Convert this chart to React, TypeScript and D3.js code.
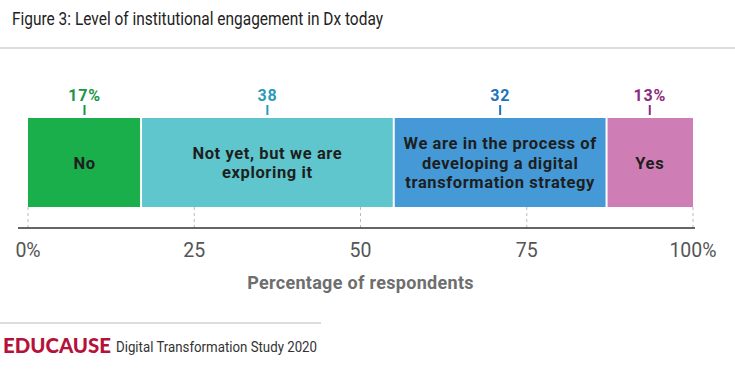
import React from "react";
import * as d3 from "d3";

const categories = ["No", "Not yet, but we are exploring it", "We are in the process of developing a digital transformation strategy", "Yes"];
const categoryLines = [["No"], ["Not yet, but we are", "exploring it"], ["We are in the process of", "developing a digital", "transformation strategy"], ["Yes"]];
const values = [17, 38, 32, 13];
const valueLabels = ["17%", "38", "32", "13%"];
const tickValues = [0, 25, 50, 75, 100];
const tickLabels = ["0%", "25", "50", "75", "100%"];
const fills = ["#1aaf4b", "#5ec6cc", "#4499d6", "#cf7eb5"];
const labelColors = ["#1a9448", "#2a9bb8", "#1e72bb", "#8e2a80"];

export default function App() {
  const W = 735, H = 377;
  const x = d3.scaleLinear().domain([0, 100]).range([28, 693]);
  const barTop = 118, barBottom = 207, axisY = 228;
  const starts = values.reduce<number[]>((acc, v, i) => { acc.push(i === 0 ? 0 : acc[i - 1] + values[i - 1]); return acc; }, []);
  const font = "Roboto, 'DejaVu Sans', sans-serif";
  return (
    <svg width={W} height={H} style={{ position: "absolute", left: 0, top: 0, background: "#fff" }} fontFamily={font}>
      <rect width={W} height={H} fill="#fff" />
      <text x={12} y={25} fontSize={17.5} fill="#222" textLength={371} lengthAdjust="spacingAndGlyphs">Figure 3: Level of institutional engagement in Dx today</text>
      <line x1={0} x2={W} y1={48} y2={48} stroke="#dcdcdc" strokeWidth={2} />
      {tickValues.map((t) => (
        <line key={"g" + t} x1={x(t)} x2={x(t)} y1={barBottom} y2={axisY} stroke="#bbb" strokeDasharray="3,3" />
      ))}
      {values.map((v, i) => {
        const x0 = x(starts[i]) + (i === 0 ? 0 : 1);
        const x1 = x(starts[i] + v) - (i === values.length - 1 ? 0 : 1);
        const cx = (x(starts[i]) + x(starts[i] + v)) / 2;
        const lines = categoryLines[i];
        const midY = (barTop + barBottom) / 2;
        const lh = 19.5;
        return (
          <g key={categories[i]}>
            <rect x={x0} y={barTop} width={x1 - x0} height={barBottom - barTop} fill={fills[i]} />
            <line x1={cx} x2={cx} y1={105} y2={115} stroke={labelColors[i]} strokeWidth={2} />
            <text x={cx} y={101} textAnchor="middle" fontSize={16} fontWeight={700} letterSpacing={0.8} fill={labelColors[i]}>{valueLabels[i]}</text>
            {lines.map((l, j) => (
              <text key={j} x={cx} y={midY + (j - (lines.length - 1) / 2) * lh + 6} textAnchor="middle" fontSize={16.5} fontWeight={700} letterSpacing={0.6} fill="#1e1e1e">{l}</text>
            ))}
          </g>
        );
      })}
      <line x1={18} x2={695} y1={axisY} y2={axisY} stroke="#333" strokeWidth={1.5} />
      {tickValues.map((t, i) => (
        <text key={"t" + t} x={x(t)} y={257} textAnchor="middle" fontSize={19.5} fill="#555">{tickLabels[i]}</text>
      ))}
      <text x={x(50)} y={289} textAnchor="middle" fontSize={18} fontWeight={700} letterSpacing={0.3} fill="#6e6e6e">Percentage of respondents</text>
      <line x1={0} x2={321} y1={323} y2={323} stroke="#dcdcdc" strokeWidth={2} />
      <text x={3} y={353} fontSize={20} fontWeight={900} fill="#b5123a" fontFamily="Lato, Roboto, sans-serif" textLength={108} lengthAdjust="spacingAndGlyphs">EDUCAUSE</text>
      <text x={116} y={352} fontSize={14.5} fill="#333" textLength={201} lengthAdjust="spacingAndGlyphs">Digital Transformation Study 2020</text>
    </svg>
  );
}
